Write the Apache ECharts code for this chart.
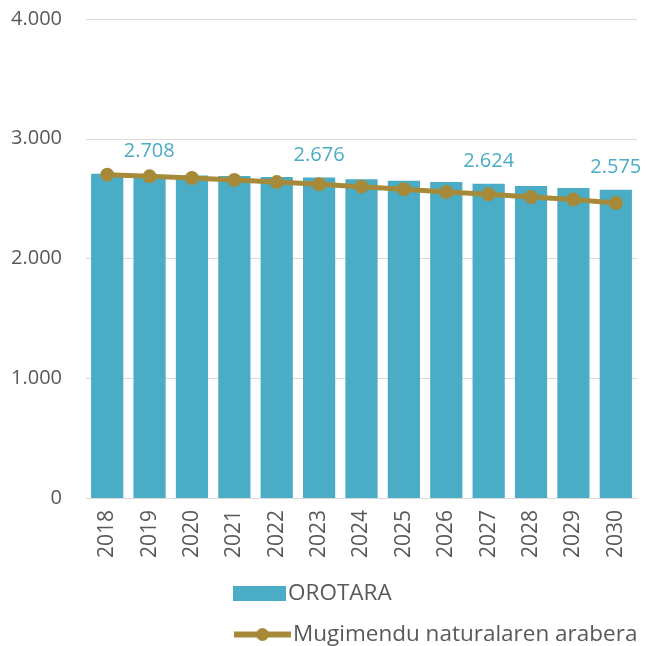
<!DOCTYPE html>
<html>
<head>
<meta charset="utf-8">
<script src="https://cdn.jsdelivr.net/npm/echarts@6/dist/echarts.min.js"></script>
<style>
    html, body { margin: 0; padding: 0; background: #fff; }
    #myChart { width: 646px; height: 646px; }
</style>
</head>
<body>
<div id="myChart"></div>
<script>
    // datuak
    const years = ['2018', '2019', '2020', '2021', '2022', '2023', '2024', '2025', '2026', '2027', '2028', '2029', '2030'];
    const orotara = [2708, 2697, 2694, 2689, 2681, 2676, 2661, 2650, 2639, 2624, 2605, 2589, 2575];
    const mugimendu = [2700, 2686, 2672, 2655, 2638, 2620, 2600, 2578, 2555, 2536, 2513, 2492, 2463];
    const labeledYears = ['2018', '2023', '2027', '2030'];
    const yTicks = [0, 1000, 2000, 3000, 4000];

    function fmt(v) {
        return String(v).replace(/\B(?=(\d{3})+(?!\d))/g, '.');
    }

    const font = 'Open Sans';
    const blue = '#4BACC6';
    const gold = '#A68A3A';
    const legendText = { fontSize: 22.5, color: '#595959', fontFamily: font, padding: [0, 0, 0, -3] };

    let myChart = echarts.init(document.getElementById('myChart'));
    let option = {
        animation: false,
        textStyle: { fontFamily: font },
        grid: { left: 86, right: 9, top: 19, bottom: 148 },
        legend: [
            {
                left: 228,
                top: 577,
                itemWidth: 53,
                itemHeight: 15,
                itemGap: 0,
                textStyle: legendText,
                data: [{ name: 'OROTARA', icon: 'rect' }]
            },
            {
                left: 226,
                top: 618,
                itemWidth: 57,
                itemHeight: 16,
                itemGap: 0,
                textStyle: legendText,
                data: [{ name: 'Mugimendu naturalaren arabera', lineStyle: { width: 6 } }]
            }
        ],
        xAxis: {
            type: 'category',
            data: years,
            axisTick: { show: false },
            axisLine: { lineStyle: { color: '#D9D9D9', width: 1 } },
            axisLabel: { rotate: 90, fontSize: 21, color: '#595959', margin: 12, fontFamily: font }
        },
        yAxis: {
            type: 'value',
            min: yTicks[0],
            max: yTicks[yTicks.length - 1],
            interval: 1000,
            axisLine: { show: false },
            axisTick: { show: false },
            splitLine: { lineStyle: { color: '#D9D9D9', width: 1 } },
            axisLabel: { fontSize: 20, color: '#595959', margin: 24, formatter: v => fmt(v), fontFamily: font }
        },
        series: [
            {
                name: 'OROTARA',
                type: 'bar',
                barCategoryGap: '24%',
                itemStyle: { color: blue },
                data: orotara.map((v, i) => ({
                    value: v,
                    label: {
                        show: labeledYears.includes(years[i]),
                        position: 'top',
                        distance: 12,
                        offset: i === 0 ? [42, 0] : [0, 0],
                        color: blue,
                        fontSize: 20,
                        fontFamily: font,
                        formatter: p => fmt(p.value)
                    }
                }))
            },
            {
                name: 'Mugimendu naturalaren arabera',
                type: 'line',
                symbol: 'circle',
                symbolSize: 14,
                z: 5,
                lineStyle: { color: gold, width: 5 },
                itemStyle: { color: gold },
                data: mugimendu
            }
        ]
    };
    myChart.setOption(option);
</script>
</body>
</html>
